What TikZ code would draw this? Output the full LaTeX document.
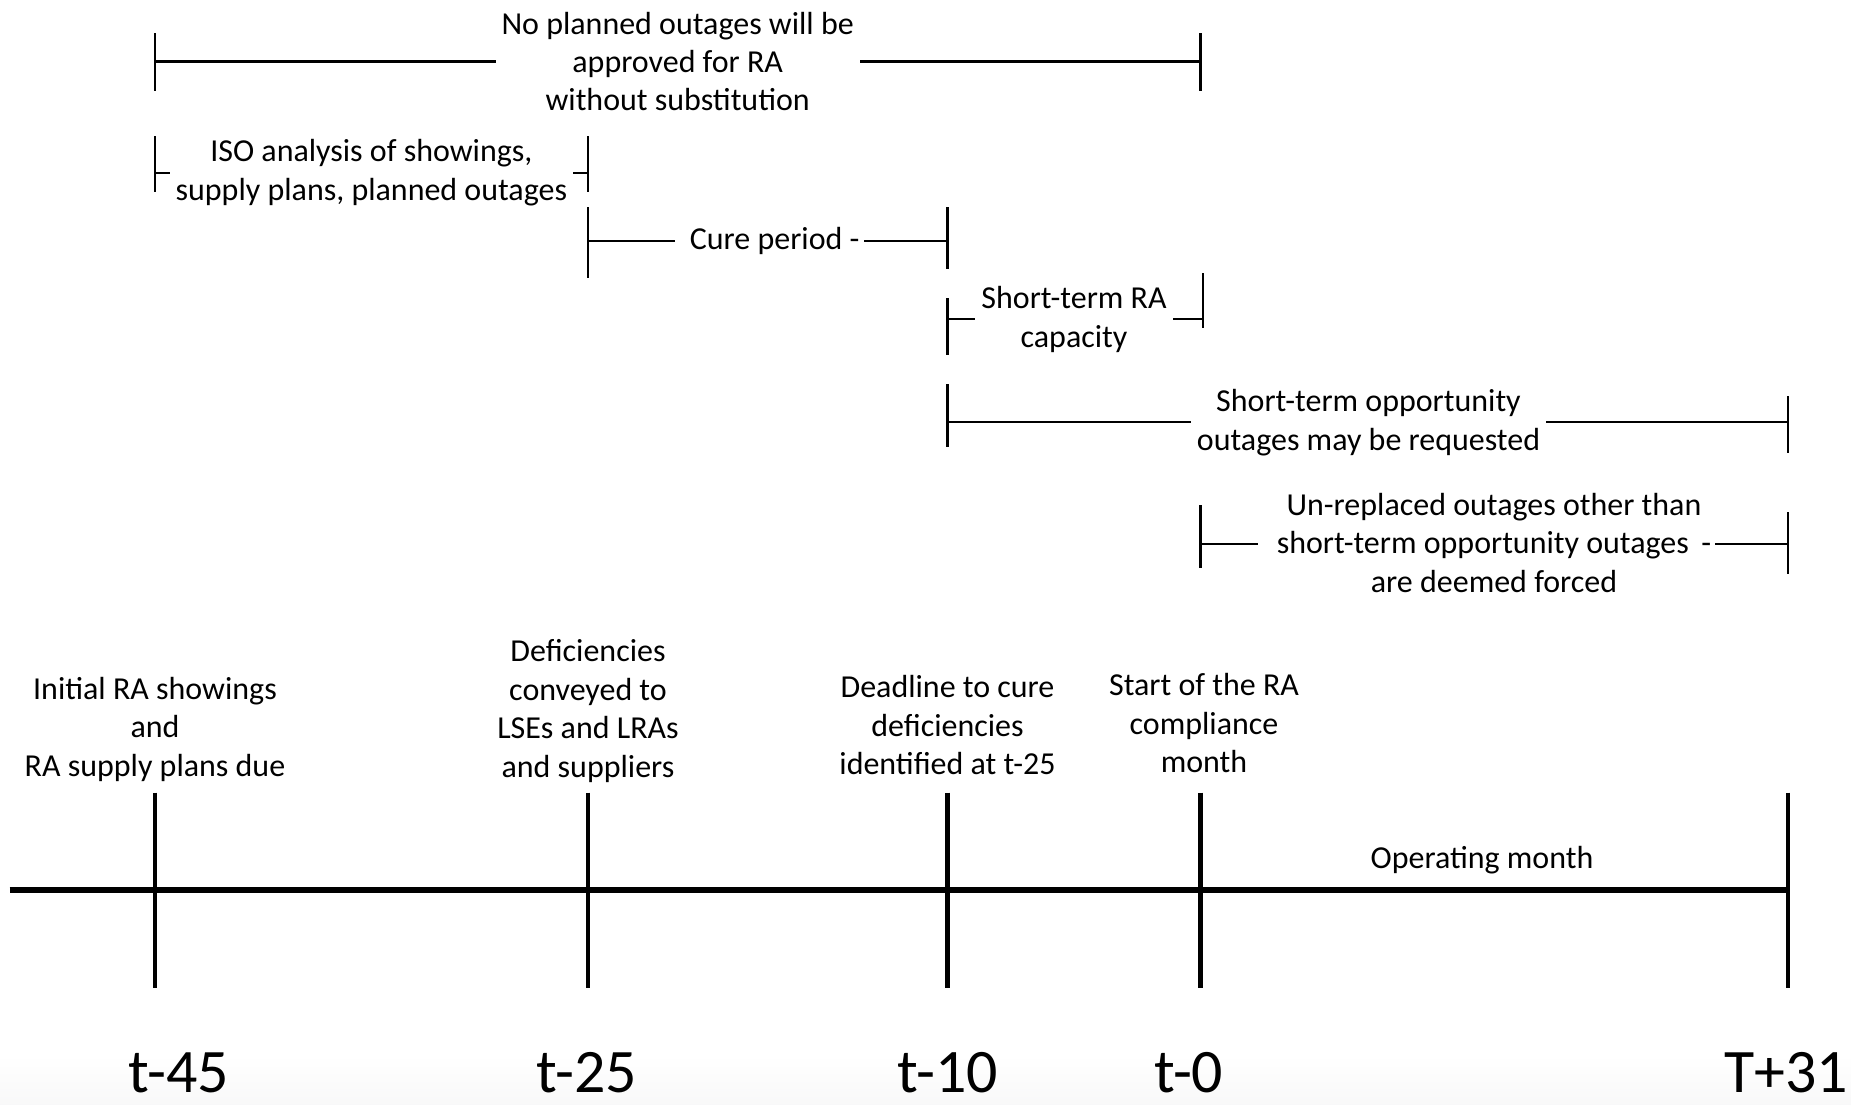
\documentclass[tikz,border=0pt]{standalone}
\usepackage{fontspec}
\setmainfont{Carlito}
\begin{document}
\begin{tikzpicture}[x=0.1mm,y=-0.1mm,
  lbl/.style={font=\fontsize{9.1}{10.95}\selectfont, align=center, inner sep=1.5pt},
  tlbl/.style={font=\fontsize{17.6}{21}\selectfont, anchor=base, inner sep=0pt},
  thin/.style={line width=0.6pt},
  tick/.style={line width=1.35pt},
  axis/.style={line width=1.7pt}]
\useasboundingbox (0,0) rectangle (1851,1104);
% faint bottom background
\fill[top color=white, bottom color=blue!3!gray!5, draw=none] (0,1055) rectangle (1851,1104);

% ---------- timeline ----------
\coordinate (a0) at (9.5,889.5);
\coordinate (a1) at (1788,889.5);
\draw[axis] (a0) -- (a1);
\foreach \n/\x in {k1/155,k2/588,k3/947.5,k4/1200.5,k5/1788}{
  \coordinate (\n t) at (\x,792.5);
  \coordinate (\n b) at (\x,987.5);
  \draw[tick] (\n t) -- (\n b);
}
\node[tlbl] (t45) at (179,1092) {t-45};
\node[tlbl] (t25) at (587,1092) {t-25};
\node[tlbl] (t10) at (947.5,1092) {t-10};
\node[tlbl] (t0)  at (1188.7,1092) {t-0};
\node[tlbl] (t31) at (1786,1092) {T+31};

\node[lbl] (e1) at (155,729) {Initial RA showings\\and\\RA supply plans due};
\node[lbl] (e2) at (588,711) {Deficiencies\\conveyed to\\LSEs and LRAs\\and suppliers};
\node[lbl] (e3) at (947.5,725) {Deadline to cure\\deficiencies\\identified at t-25};
\node[lbl] (e4) at (1204,723) {Start of the RA\\compliance\\month};
\node[lbl] (e5) at (1482,860) {Operating month};

% ---------- bracket 1 ----------
\node[lbl] (p1) at (677.7,61.5) {No planned outages will be\\approved for RA\\without substitution};
\coordinate (p1lt) at (155,33);   \coordinate (p1lb) at (155,91);   \coordinate (p1l) at (155,61.5);
\coordinate (p1rt) at (1200.5,33);\coordinate (p1rb) at (1200.5,91);\coordinate (p1r) at (1200.5,61.5);
\draw[thin] (p1lt) -- (p1lb);
\draw[thin] (p1rt) -- (p1rb);
\draw[thin] (p1l) -- (p1l -| p1.west);
\draw[thin] (p1r) -- (p1r -| p1.east);

% ---------- bracket 2 ----------
\node[lbl] (p2) at (371.4,172.7) {ISO analysis of showings,\\supply plans, planned outages};
\coordinate (p2lt) at (155,136);  \coordinate (p2lb) at (155,192);  \coordinate (p2l) at (155,172.7);
\coordinate (p2rt) at (588,136);  \coordinate (p2rb) at (588,192);  \coordinate (p2r) at (588,172.7);
\draw[thin] (p2lt) -- (p2lb);
\draw[thin] (p2rt) -- (p2rb);
\draw[thin] (p2l) -- (p2l -| p2.west);
\draw[thin] (p2r) -- (p2r -| p2.east);

% ---------- bracket 3 ----------
\node[lbl, inner xsep=4pt] (p3) at (774.7,241.3) {Cure period -};
\coordinate (p3lt) at (588,207);  \coordinate (p3lb) at (588,278);  \coordinate (p3l) at (588,241.3);
\coordinate (p3rt) at (947.5,207);\coordinate (p3rb) at (947.5,268.5);\coordinate (p3r) at (947.5,241.3);
\draw[thin] (p3lt) -- (p3lb);
\draw[thin] (p3rt) -- (p3rb);
\draw[thin] (p3l) -- (p3l -| p3.west);
\draw[thin] (p3r) -- ([xshift=-3pt]p3r -| p3.east);

% ---------- bracket 4 ----------
\node[lbl] (p4) at (1074,319.4) {Short-term RA\\capacity};
\coordinate (p4lt) at (947.5,298);\coordinate (p4lb) at (947.5,355);\coordinate (p4l) at (947.5,319.4);
\coordinate (p4rt) at (1203,273); \coordinate (p4rb) at (1203,327.6);\coordinate (p4r) at (1203,319.4);
\draw[thin] (p4lt) -- (p4lb);
\draw[thin] (p4rt) -- (p4rb);
\draw[thin] (p4l) -- (p4l -| p4.west);
\draw[thin] (p4r) -- (p4r -| p4.east);

% ---------- bracket 5 ----------
\node[lbl] (p5) at (1368.5,422.5) {Short-term opportunity\\outages may be requested};
\coordinate (p5lt) at (947.5,384.4);\coordinate (p5lb) at (947.5,447);\coordinate (p5l) at (947.5,422);
\coordinate (p5rt) at (1788,396); \coordinate (p5rb) at (1788,453); \coordinate (p5r) at (1788,422);
\draw[thin] (p5lt) -- (p5lb);
\draw[thin] (p5rt) -- (p5rb);
\draw[thin] (p5l) -- (p5l -| p5.west);
\draw[thin] (p5r) -- (p5r -| p5.east);

% ---------- bracket 6 ----------
\node[lbl, inner xsep=5pt] (p6) at (1494,543) {Un-replaced outages other than\\short-term opportunity outages \,-\\are deemed forced};
\coordinate (p6lt) at (1200.5,505);\coordinate (p6lb) at (1200.5,568);\coordinate (p6l) at (1200.5,544);
\coordinate (p6rt) at (1788,512); \coordinate (p6rb) at (1788,573.6);\coordinate (p6r) at (1788,544);
\draw[thin] (p6lt) -- (p6lb);
\draw[thin] (p6rt) -- (p6rb);
\draw[thin] (p6l) -- (p6l -| p6.west);
\draw[thin] (p6r) -- ([xshift=-4pt]p6r -| p6.east);
\end{tikzpicture}
\end{document}
